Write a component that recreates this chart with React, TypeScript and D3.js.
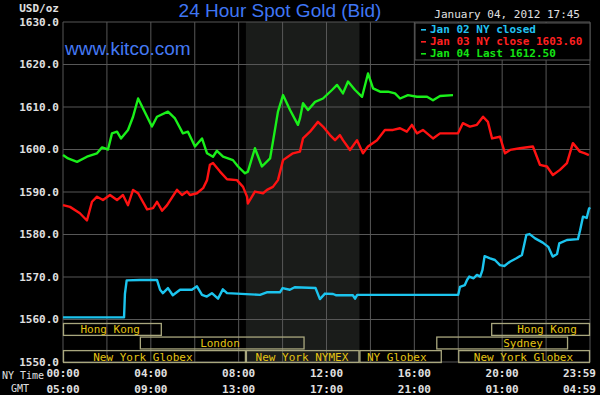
import React from "react";
import * as d3 from "d3";

// price axis
const priceTicks = [1550, 1560, 1570, 1580, 1590, 1600, 1610, 1620, 1630];

// time axis (NY hours)
const labelHours = [0, 4, 8, 12, 16, 20, 24];
const nyTimeLabels = ["00:00", "04:00", "08:00", "12:00", "16:00", "20:00", "23:59"];
const gmtLabels = ["05:00", "09:00", "13:00", "17:00", "21:00", "01:00", "04:59"];

// [hour, price]
const jan02 = [
  [0, 1560.5], [2.78, 1560.5], [2.82, 1566], [2.9, 1569.2], [3.5, 1569.3], [4.28, 1569.3],
  [4.42, 1567], [4.55, 1566.2], [4.78, 1567.4], [5.0, 1565.7], [5.33, 1567], [5.87, 1567],
  [6.1, 1567.8], [6.33, 1565.8], [6.55, 1565.4], [6.78, 1566.2], [7.06, 1564.9], [7.28, 1567.1],
  [7.47, 1566.2], [8.97, 1565.8], [9.28, 1566.4], [9.88, 1566.4], [10.0, 1567.4], [10.33, 1567],
  [10.55, 1567.6], [11.5, 1567.4], [11.7, 1564.8], [11.93, 1566.1], [12.3, 1566], [12.45, 1565.7],
  [13.2, 1565.7], [13.3, 1564.9], [13.4, 1565.8], [18.0, 1565.8], [18.08, 1567.7], [18.3, 1568.1],
  [18.4, 1569.3], [18.5, 1570.1], [18.7, 1569.7], [18.85, 1570.5], [19.0, 1570.1], [19.1, 1571.6],
  [19.2, 1574.9], [19.45, 1574.4], [19.67, 1574], [19.9, 1572.8], [20.1, 1572.6], [20.35, 1573.6],
  [20.65, 1574.4], [20.9, 1575.2], [21.1, 1579.9], [21.25, 1580.1], [21.5, 1579.1], [21.85, 1578.1],
  [22.1, 1577.1], [22.3, 1574.8], [22.5, 1575.4], [22.6, 1577.9], [22.95, 1578.7], [23.45, 1578.9],
  [23.55, 1581], [23.68, 1584.2], [23.85, 1583.9], [23.95, 1586.0], [24, 1586.4],
];

const jan03 = [
  [0, 1586.9], [0.32, 1586.5], [0.77, 1585], [1.09, 1583.3], [1.32, 1587.7], [1.55, 1588.9],
  [1.82, 1588.1], [2.14, 1589.3], [2.46, 1588.1], [2.73, 1589.3], [2.96, 1586.9], [3.19, 1590.5],
  [3.42, 1589.7], [3.83, 1585.9], [4.1, 1586.2], [4.28, 1587.7], [4.51, 1585.6], [4.74, 1586.9],
  [5.19, 1590.5], [5.42, 1589.3], [5.65, 1590.1], [5.78, 1589.3], [6.1, 1589.7], [6.38, 1590.9],
  [6.56, 1592.8], [6.69, 1596.4], [6.83, 1596.8], [7.15, 1594.8], [7.47, 1593], [7.92, 1592.8],
  [8.2, 1591.2], [8.38, 1588.9], [8.42, 1587.3], [8.74, 1590.1], [9.11, 1589.7], [9.29, 1590.5],
  [9.56, 1591.2], [9.79, 1592.8], [10.02, 1597.5], [10.47, 1599.1], [10.79, 1599.5], [10.93, 1602.6],
  [11.25, 1604.2], [11.61, 1606.5], [11.84, 1605.4], [12.16, 1603.4], [12.39, 1602.2], [12.61, 1603.4],
  [12.75, 1602.2], [13.07, 1599.9], [13.39, 1602.2], [13.66, 1599.1], [13.89, 1600.7], [14.3, 1602.2],
  [14.66, 1604.6], [15.03, 1604.6], [15.35, 1605], [15.66, 1604.2], [15.89, 1605.8], [16.12, 1603.8],
  [16.39, 1604.6], [16.85, 1602.6], [17.17, 1603.8], [17.99, 1603.8], [18.21, 1606.2], [18.53, 1605.4],
  [18.85, 1605.8], [19.13, 1607.7], [19.35, 1606.5], [19.54, 1602.6], [19.9, 1603], [20.13, 1599.1],
  [20.36, 1599.9], [20.81, 1600.3], [21.4, 1600.7], [21.72, 1596.4], [22.04, 1596], [22.31, 1594],
  [22.63, 1595.2], [22.95, 1596.8], [23.22, 1601.5], [23.54, 1599.5], [23.77, 1599.1], [23.95, 1598.7],
];

const jan04 = [
  [0, 1598.7], [0.23, 1597.9], [0.64, 1597.1], [1.09, 1598.3], [1.55, 1599.1], [1.78, 1600.5],
  [2.05, 1600.0], [2.23, 1603.8], [2.46, 1604.2], [2.64, 1602.6], [2.96, 1604.6], [3.19, 1607.7],
  [3.42, 1612.0], [3.64, 1609.7], [4.05, 1605.4], [4.28, 1607.7], [4.78, 1608.9], [5.1, 1607.3],
  [5.46, 1603.8], [5.69, 1604.2], [6.01, 1600.7], [6.33, 1602.6], [6.56, 1599.1], [6.83, 1598.3],
  [7.01, 1599.7], [7.29, 1598.3], [7.74, 1597.5], [7.97, 1596.0], [8.29, 1594.4], [8.42, 1594.8],
  [8.74, 1600.3], [9.06, 1596], [9.43, 1597.9], [9.56, 1601.8], [9.79, 1608.9], [10.02, 1612.8],
  [10.34, 1609.3], [10.7, 1605.8], [10.79, 1607.3], [10.93, 1610.9], [11.16, 1609.3], [11.48, 1611.2],
  [11.84, 1612], [12.25, 1614], [12.48, 1615.2], [12.75, 1613.2], [12.98, 1616], [13.3, 1614],
  [13.62, 1612.4], [13.89, 1617.9], [14.12, 1614.4], [14.44, 1613.6], [14.8, 1613.6], [15.12, 1613.2],
  [15.35, 1612], [15.71, 1612.8], [16.12, 1612.4], [16.58, 1612.4], [16.85, 1611.6], [17.17, 1612.6],
  [17.76, 1612.8],
];

const legendLabels = ["Jan 02 NY closed", "Jan 03 NY close 1603.60", "Jan 04 Last 1612.50"];

// trading sessions
const sessionNames = ["Hong Kong", "Hong Kong", "London", "Sydney", "New York Globex", "New York NYMEX", "NY Globex", "New York Globex"];
const sessionStart = [0, 19.5, 3.5, 17, 0, 8.33, 13.5, 18];
const sessionEnd = [4.5, 24, 11, 23, 8.33, 13.5, 17.25, 24];
const sessionLabelHour = [2.15, 22.04, 7.15, 20.95, 3.64, 10.88, 15.2, 20.97];
const sessionRow = [0, 0, 1, 1, 2, 2, 2, 2];

// COMEX pit hours (shaded)
const comexHours = [8.33, 13.5];

const mono = "'DejaVu Sans Mono', monospace";
const sans = "'Liberation Sans', Arial, sans-serif";
const seriesColors = ["#1cc4ee", "#ff1212", "#1af01a"];
const legendColors = ["#22c2f2", "#ff2020", "#14e414"];

export default function App() {
  const width = 600;
  const height = 395;
  const left = 63;
  const right = 590;
  const top = 22;
  const bottom = 362;

  const x = d3.scaleLinear().domain([0, 24]).range([left, right]);
  const y = d3.scaleLinear().domain([1550, 1630]).range([bottom, top]);
  const rows = d3.scaleBand<number>().domain([0, 1, 2]).range([323, 363]).paddingInner(0.05);

  const line = d3
    .line<number[]>()
    .x(d => x(d[0]))
    .y(d => y(d[1]));

  const series = [jan02, jan03, jan04];
  const last = labelHours.length - 1;

  return (
    <svg
      width={width}
      height={height}
      style={{ position: "absolute", left: 0, top: 0, background: "#000" }}
    >
      <rect width={width} height={height} fill="#000" />
      <rect
        x={x(comexHours[0])}
        y={top}
        width={x(comexHours[1]) - x(comexHours[0])}
        height={bottom - top}
        fill="#1a1c1a"
      />

      {/* grid */}
      {d3.range(0, 25, 2).map(h => (
        <line key={"v" + h} x1={x(h)} x2={x(h)} y1={top} y2={bottom} stroke="#575757" strokeWidth={1} />
      ))}
      {priceTicks.map(p => (
        <line key={"h" + p} x1={left} x2={right} y1={y(p)} y2={y(p)} stroke="#575757" strokeWidth={1} />
      ))}

      {/* sessions */}
      {sessionNames.map((name, i) => (
        <g key={"s" + i}>
          <rect
            x={x(sessionStart[i]) + 0.5}
            y={rows(sessionRow[i])! + 0.5}
            width={x(sessionEnd[i]) - x(sessionStart[i]) - 1}
            height={rows.bandwidth() - 1}
            fill="none"
            stroke="#a9a77e"
            strokeWidth={1.3}
          />
          <text
            x={x(sessionLabelHour[i])}
            y={rows(sessionRow[i])! + rows.bandwidth() / 2}
            dy="0.36em"
            textAnchor="middle"
            fill="#e4c414"
            fontFamily={mono}
            fontSize={11}
          >
            {name}
          </text>
        </g>
      ))}

      {/* price lines */}
      {series.map((s, i) => (
        <path
          key={"l" + i}
          d={line(s) ?? ""}
          fill="none"
          stroke={seriesColors[i]}
          strokeWidth={2.4}
          strokeLinejoin="round"
        />
      ))}

      {/* y axis labels */}
      <text x={59} y={12} textAnchor="end" fill="#e0e0e0" fontFamily={mono} fontSize={11} fontWeight="bold">
        USD/oz
      </text>
      {priceTicks.map(p => (
        <text
          key={"yl" + p}
          x={59}
          y={y(p)}
          dy="0.36em"
          textAnchor="end"
          fill="#e0e0e0"
          fontFamily={mono}
          fontSize={11}
          fontWeight="bold"
        >
          {p.toFixed(1)}
        </text>
      ))}

      {/* x axis labels */}
      <text x={2} y={379} fill="#e0e0e0" fontFamily={mono} fontSize={10}>NY Time</text>
      <text x={11} y={392} fill="#e0e0e0" fontFamily={mono} fontSize={10}>GMT</text>
      {labelHours.map((h, i) => (
        <g key={"xl" + h}>
          <text
            x={i === last ? x(h) + 6 : x(h)}
            y={377}
            textAnchor={i === last ? "end" : "middle"}
            fill="#e0e0e0"
            fontFamily={mono}
            fontSize={11}
            fontWeight="bold"
          >
            {nyTimeLabels[i]}
          </text>
          <text
            x={i === last ? x(h) + 6 : x(h)}
            y={393}
            textAnchor={i === last ? "end" : "middle"}
            fill="#e0e0e0"
            fontFamily={mono}
            fontSize={11}
            fontWeight="bold"
          >
            {gmtLabels[i]}
          </text>
        </g>
      ))}

      {/* titles */}
      <text x={280} y={17} textAnchor="middle" fill="#3f76f4" fontFamily={sans} fontSize={19}>
        24 Hour Spot Gold (Bid)
      </text>
      <text x={65} y={55} fill="#4479f4" fontFamily={sans} fontSize={19}>
        www.kitco.com
      </text>
      <text x={580} y={18} textAnchor="end" fill="#e0e0e0" fontFamily={mono} fontSize={11}>
        January 04, 2012 17:45
      </text>

      {/* legend */}
      <rect x={415} y={23} width={175} height={37} fill="#000" stroke="#575757" />
      {legendLabels.map((lab, i) => (
        <g key={"lg" + i}>
          <rect x={421} y={29 + i * 12} width={5} height={1.6} fill={legendColors[i]} />
          <text x={430} y={33 + i * 12} fill={legendColors[i]} fontFamily={mono} fontSize={11} fontWeight="bold">
            {lab}
          </text>
        </g>
      ))}
    </svg>
  );
}
